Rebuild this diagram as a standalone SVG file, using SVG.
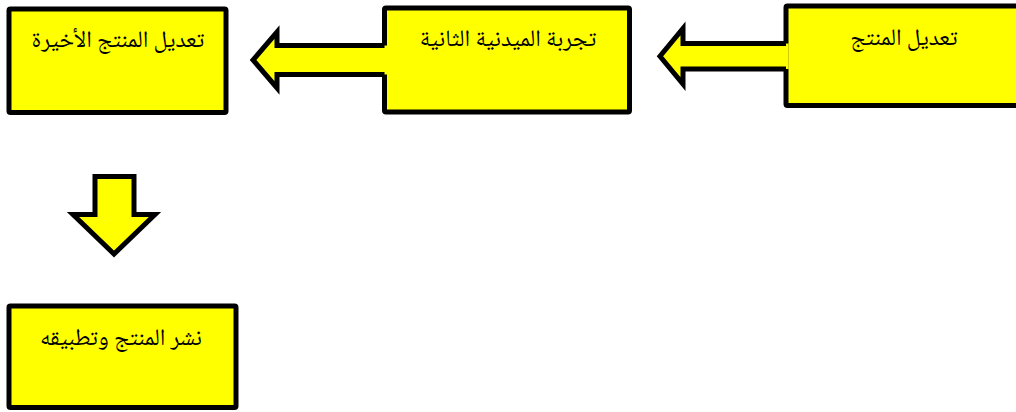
<svg xmlns="http://www.w3.org/2000/svg" width="1016" height="412" viewBox="0 0 1016 412">
<style>
.box{fill:#FFFF00;stroke:#000;stroke-width:5}
.afill{fill:#FFFF00;stroke:none}
.aline{fill:none;stroke:#000;stroke-width:5;stroke-linejoin:miter;stroke-miterlimit:10}
.arrow{fill:#FFFF00;stroke:#000;stroke-width:5;stroke-linejoin:miter;stroke-miterlimit:10}
.lbl{font-family:"Noto Naskh Arabic","Noto Sans Arabic","DejaVu Sans",sans-serif;font-size:23.5px;fill:#000;text-anchor:middle}
</style>
<rect width="1016" height="412" fill="#fff"/>
<g id="node-final-edit">
<rect class="box" x="9" y="9" width="217" height="103.5" rx="1.5"/>
<text class="lbl" x="118" y="47" direction="rtl">تعديل المنتج الأخيرة</text>
</g>
<g id="node-second-trial">
<rect class="box" x="384.5" y="8" width="245" height="104" rx="1.5"/>
<text class="lbl" x="508" y="46" direction="rtl">تجربة الميدنية الثانية</text>
</g>
<g id="node-edit">
<rect class="box" x="786" y="6" width="250" height="99.5" rx="1.5"/>
<text class="lbl" x="904" y="45" direction="rtl">تعديل المنتج</text>
</g>
<g id="node-publish">
<rect class="box" x="9" y="306" width="227" height="101.5" rx="1.5"/>
<text class="lbl" x="121" y="345" direction="rtl">نشر المنتج وتطبيقه</text>
</g>
<g id="connectors">
<polygon class="afill" points="253,60 277,32 277,45.5 387,45.5 387,74.5 277,74.5 277,88"/>
<polyline class="aline" points="384.5,45.5 277,45.5 277,32 253,60 277,88 277,74.5 384.5,74.5"/>
<polygon class="afill" points="660,56.25 683,28.5 683,43.5 788.6,43.5 788.6,69 683,69 683,84"/>
<polyline class="aline" points="786,43.5 683,43.5 683,28.5 660,56.25 683,84 683,69 786,69"/>
<polygon class="arrow" points="95,176.5 134,176.5 134,214.5 155,214.5 114,254 73,214.5 95,214.5"/>
</g>
</svg>
